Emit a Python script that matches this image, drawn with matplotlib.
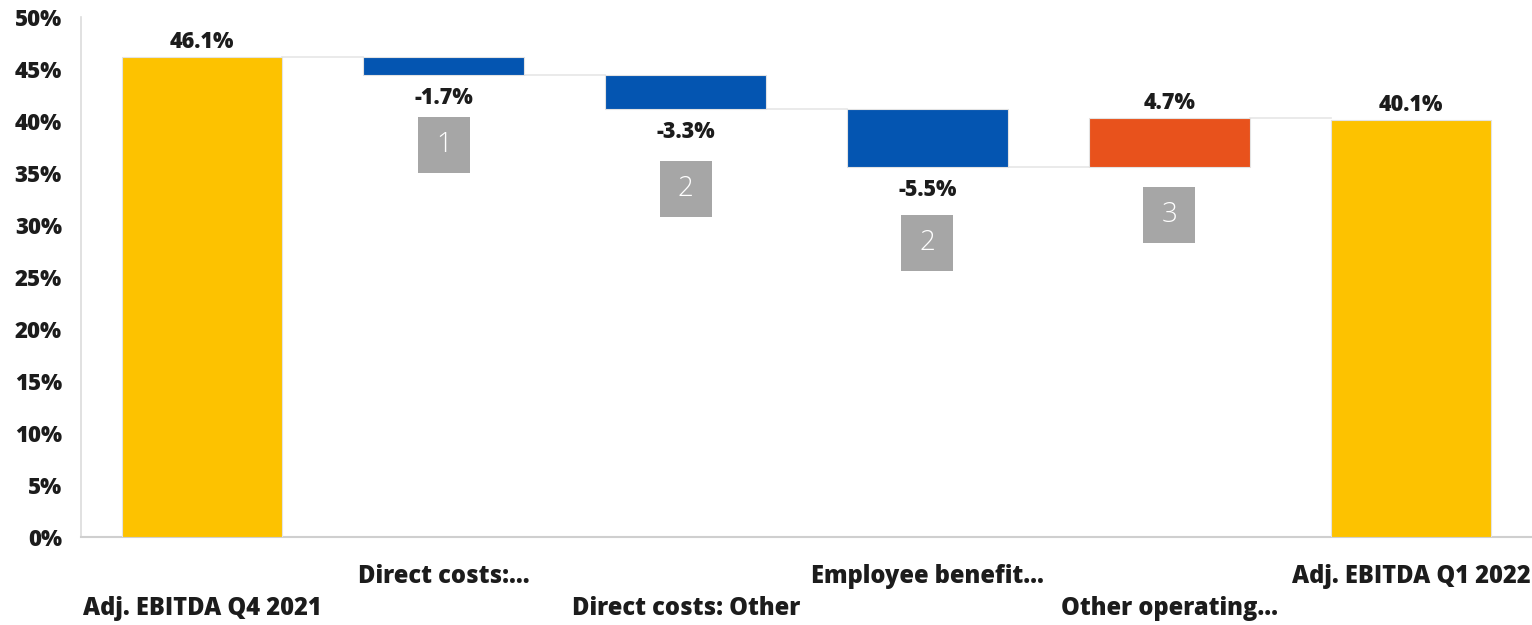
import matplotlib.pyplot as plt
from matplotlib.patches import Rectangle
from matplotlib.transforms import blended_transform_factory, IdentityTransform

categories = ['Adj. EBITDA Q4 2021', 'Direct costs:...', 'Direct costs: Other',
              'Employee benefit...', 'Other operating...', 'Adj. EBITDA Q1 2022']
values = [46.1, -1.7, -3.3, -5.5, 4.7, 40.1]
is_total = [True, False, False, False, False, True]
notes = [None, '1', '2', '2', '3', None]

YELLOW = '#FDC200'
BLUE = '#0455B1'
ORANGE = '#E8521C'
TEXT = '#1c1c1c'
NOTE_BG = '#A6A6A6'
# how far below each bar bottom the footnote box sits (pixels)
note_offsets_px = [0, 70, 80, 76, 48, 0]

plt.rcParams['font.family'] = ['Open Sans', 'DejaVu Sans']

fig = plt.figure(figsize=(15.32, 6.25), dpi=100)
ax = fig.add_axes([0.053, 0.141, 0.947, 0.832])

px = 0.72  # points per pixel at 100 dpi
width = 0.665

bottoms, heights, ends = [], [], []
running = 0.0
for v, tot in zip(values, is_total):
    if tot:
        bottoms.append(0.0)
        heights.append(v)
        running = v
    else:
        bottoms.append(running if v > 0 else running + v)
        heights.append(abs(v))
        running += v
    ends.append(running)

colors = [YELLOW if t else (ORANGE if v > 0 else BLUE) for v, t in zip(values, is_total)]
ax.bar(range(len(values)), heights, bottom=bottoms, width=width, color=colors,
       edgecolor='#e3e3e3', linewidth=0.8, zorder=3)

# connector lines between bars
for i in range(len(values) - 1):
    ax.plot([i + width / 2, i + 1 - width / 2], [ends[i], ends[i]],
            color='#e6e6e6', lw=1.2, zorder=2)

ax.set_xlim(-0.5, 5.5)
ax.set_ylim(0, 50)

for i, (v, tot) in enumerate(zip(values, is_total)):
    lbl = f'{v:.1f}%'
    if tot or v > 0:
        ax.annotate(lbl, (i, bottoms[i] + heights[i]), xytext=(0, 15 * px),
                    textcoords='offset points', ha='center', va='center',
                    fontsize=15.5, fontweight='heavy', color=TEXT)
    else:
        ax.annotate(lbl, (i, bottoms[i]), xytext=(0, -23 * px),
                    textcoords='offset points', ha='center', va='center',
                    fontsize=15.5, fontweight='heavy', color=TEXT)
    if notes[i]:
        x0, y0 = ax.transData.transform((i, bottoms[i]))
        cy = y0 - note_offsets_px[i]
        ax.add_artist(Rectangle((x0 - 26, cy - 28), 52, 56, transform=IdentityTransform(),
                                fc=NOTE_BG, ec='none', zorder=4, clip_on=False))
        ax.annotate(notes[i], (i, bottoms[i]), xytext=(0, -note_offsets_px[i] * px),
                    textcoords='offset points', ha='center', va='center',
                    fontsize=20, fontweight='light', color='white', zorder=5)

# staggered category labels
trans = blended_transform_factory(ax.transData, ax.transAxes)
for i, name in enumerate(categories):
    drop = 40 if i % 2 == 1 else 72
    if i == len(categories) - 1:
        drop = 40
    ax.annotate(name, (i, 0), xycoords=trans, xytext=(0, -drop * px),
                textcoords='offset points', ha='center', va='center',
                fontsize=17, fontweight='heavy', color=TEXT, annotation_clip=False)

ax.set_yticks(range(0, 51, 5))
ax.set_yticklabels([f'{t}%' for t in range(0, 51, 5)])
ax.set_xticks([])
ax.tick_params(axis='y', length=0, pad=14, labelsize=16, labelcolor=TEXT)
for lab in ax.get_yticklabels():
    lab.set_fontweight('heavy')

for s in ['top', 'right']:
    ax.spines[s].set_visible(False)
ax.spines['left'].set_color('#dcdcdc')
ax.spines['bottom'].set_color('#cfcfcf')
ax.spines['left'].set_linewidth(1.2)
ax.spines['bottom'].set_linewidth(1.5)

fig.savefig('out.png', dpi=100)
